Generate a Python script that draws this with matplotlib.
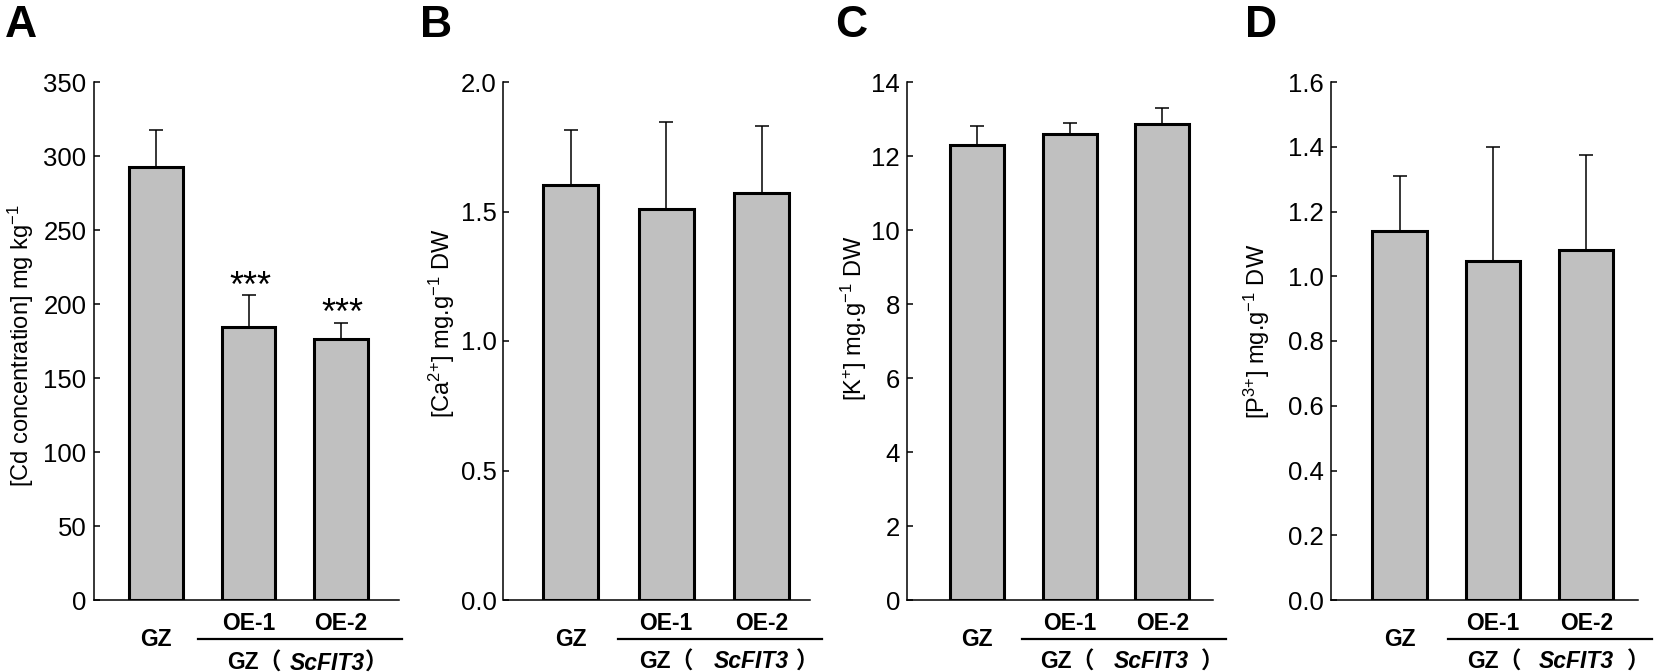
import matplotlib
matplotlib.use("Agg")
import matplotlib.pyplot as plt
from matplotlib import font_manager as fm

# ---------------- data ----------------
categories = ["GZ", "OE-1", "OE-2"]
group_name = "GZ"
gene_name = "ScFIT3"
panel_letters = ["A", "B", "C", "D"]

cd_mean = [292.5, 184.5, 176.5]
cd_err = [25.0, 21.5, 11.0]
ca_mean = [1.604, 1.511, 1.571]
ca_err = [0.212, 0.333, 0.259]
k_mean = [12.31, 12.60, 12.86]
k_err = [0.50, 0.28, 0.43]
p_mean = [1.139, 1.048, 1.081]
p_err = [0.171, 0.352, 0.294]
cd_sig = ["", "***", "***"]

ylabels = [
    "[Cd concentration] mg kg$^{-1}$",
    "[Ca$^{2{+}}$] mg.g$^{-1}$ DW",
    "[K$^{{+}}$] mg.g$^{-1}$ DW",
    "[P$^{3{+}}$] mg.g$^{-1}$ DW",
]
yticks = [
    [0, 50, 100, 150, 200, 250, 300, 350],
    [0.0, 0.5, 1.0, 1.5, 2.0],
    [0, 2, 4, 6, 8, 10, 12, 14],
    [0.0, 0.2, 0.4, 0.6, 0.8, 1.0, 1.2, 1.4, 1.6],
]
ytick_fmt = ["{:.0f}", "{:.1f}", "{:.0f}", "{:.1f}"]
means = [cd_mean, ca_mean, k_mean, p_mean]
errs = [cd_err, ca_err, k_err, p_err]
sigs = [cd_sig, None, None, None]

# ---------------- layout ----------------
W, H = 1654, 672


def has_font(name):
    try:
        fm.findfont(fm.FontProperties(family=name), fallback_to_default=False)
        return True
    except Exception:
        return False


BASE = "Liberation Sans" if has_font("Liberation Sans") else "DejaVu Sans"
CJK = "Noto Sans CJK SC"
TICKSIZE = 18.5

plt.rcParams["font.family"] = [BASE, "DejaVu Sans"]
plt.rcParams["mathtext.default"] = "regular"

ax_px = [(93.5, 399.0), (503.5, 810.0), (907.0, 1213.0), (1331.0, 1638.0)]
ax_top, ax_bot = 82.0, 600.0
xlims = [(-0.678, 2.628), (-0.705, 2.506), (-0.756, 2.547), (-0.734, 2.553)]
under_x = [(0.448, 2.66), (0.498, 2.63), (0.486, 2.69), (0.518, 2.70)]
group_x0 = [0.768, 0.715, 0.683, 0.721]
ylab_pos = [(21.2, 345.5), (442.3, 323.0), (853.7, 318.0), (1257.0, 331.0)]
letter_x = [5, 420, 835, 1245]
piece_gaps = [[0, 8, 0], [0, 20, 7], [0, 19, 12], [0, 17, 14]]
piece_text = ["GZ（", "ScFIT3", "）"]

fig = plt.figure(figsize=(W / 100, H / 100), dpi=100)
fig.patch.set_facecolor("white")

axes = []
axh = ax_bot - ax_top
for i in range(4):
    l, r = ax_px[i]
    ax = fig.add_axes([l / W, (H - ax_bot) / H, (r - l) / W, axh / H])
    axes.append(ax)
    x = list(range(len(categories)))
    ax.bar(x, means[i], width=0.58, color="#c0c0c0", edgecolor="black",
           linewidth=2.2, zorder=3)
    ax.errorbar(x, means[i], yerr=[[0] * 3, errs[i]], fmt="none",
                ecolor="black", elinewidth=1.1, capsize=5.2, capthick=1.1,
                zorder=2)
    ax.set_xlim(*xlims[i])
    ax.set_ylim(yticks[i][0], yticks[i][-1])
    ax.set_yticks(yticks[i])
    ax.set_yticklabels([ytick_fmt[i].format(v) for v in yticks[i]],
                       fontsize=TICKSIZE)
    ax.set_xticks([])
    for s in ["top", "right"]:
        ax.spines[s].set_visible(False)
    ax.spines["left"].set_linewidth(1.1)
    ax.spines["bottom"].set_linewidth(1.1)
    ax.tick_params(axis="y", direction="in", length=4.3, width=1.1, pad=5)
    ax.patch.set_alpha(0)

    lx, ly = ylab_pos[i]
    ax.text((lx - l) / (r - l), (ax_bot - ly) / axh, ylabels[i],
            transform=ax.transAxes, rotation=90, ha="center", va="center",
            fontsize=17)

    xt = ax.get_xaxis_transform()
    for j, c in enumerate(categories):
        yb = 645.5 if j == 0 else 629.5
        ax.text(j, (ax_bot - yb) / axh, c, transform=xt, ha="center",
                va="baseline", fontsize=16.5, fontweight="bold")
    uy = (ax_bot - 638.5) / axh
    ax.plot(under_x[i], [uy, uy], transform=xt, color="black", lw=1.6,
            clip_on=False)

    if sigs[i] is not None:
        for j, s in enumerate(sigs[i]):
            if s:
                ax.annotate(s, xy=(j, means[i][j] + errs[i][j]), xytext=(1, -1),
                            textcoords="offset points", ha="center",
                            va="baseline", fontsize=26)

    fig.text(letter_x[i] / W, (H - 37) / H, panel_letters[i], ha="left",
             va="baseline", fontsize=32, fontweight="bold")

# compound group labels  GZ（ScFIT3）
fig.canvas.draw()
rend = fig.canvas.get_renderer()
styles = [
    dict(family=[BASE, CJK], fontweight="bold"),
    dict(family=[BASE], fontweight="bold", fontstyle="italic"),
    dict(family=[BASE, CJK], fontweight="bold"),
]
for i, ax in enumerate(axes):
    base_y = 670.0 if i == 0 else 668.5
    xt = ax.get_xaxis_transform()
    xd, yd = xt.transform((group_x0[i], (ax_bot - base_y) / axh))
    for txt, gap, st in zip(piece_text, piece_gaps[i], styles):
        xd += gap
        t = fig.text(xd / W, yd / H, txt, ha="left", va="baseline",
                     fontsize=16.5, **st)
        bb = t.get_window_extent(rend)
        xd = bb.x1

fig.savefig("out.png", dpi=100, facecolor="white")
